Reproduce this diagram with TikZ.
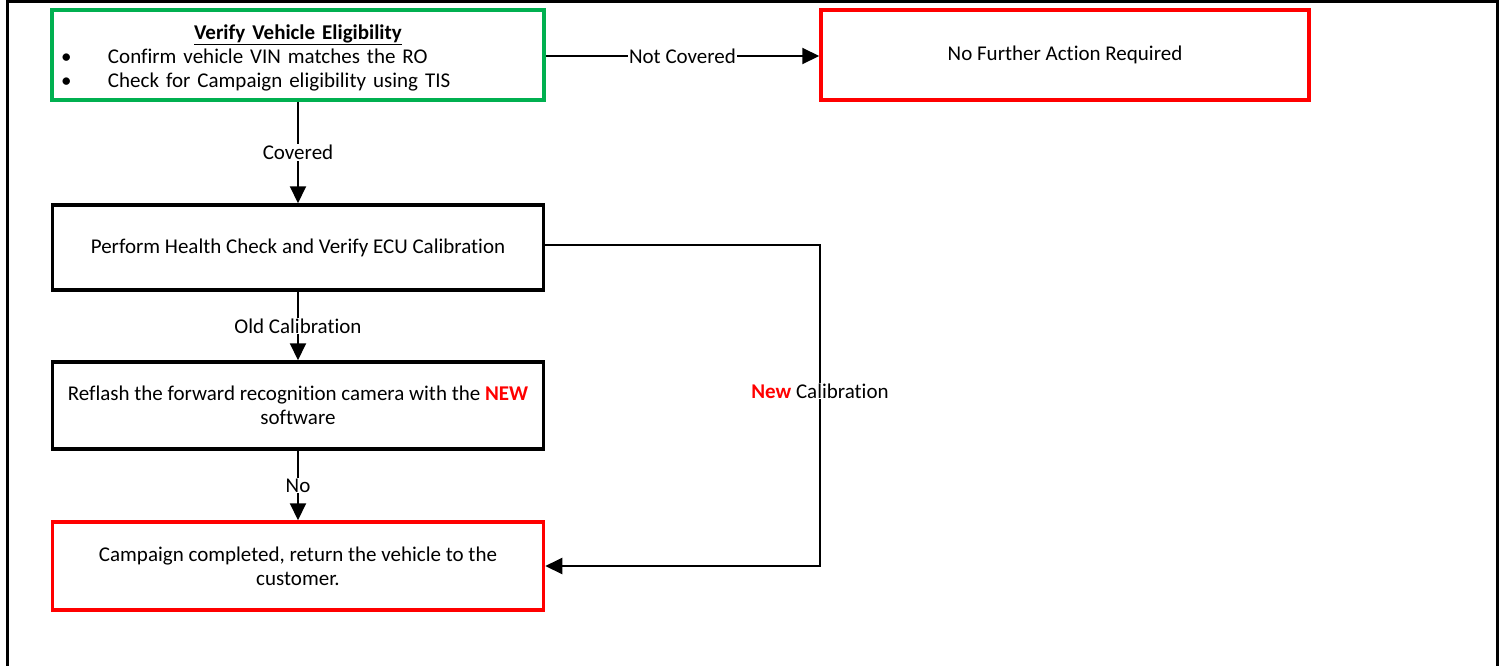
\documentclass[tikz,border=0pt]{standalone}
\usepackage{fontspec}
\setmainfont{Carlito}[Ligatures=NoCommon]
\usetikzlibrary{arrows.meta}
\definecolor{gbox}{RGB}{0,176,80}
\definecolor{rbox}{RGB}{255,0,0}
\begin{document}
\begin{tikzpicture}[x=1pt,y=-1pt,
  every node/.style={font=\fontsize{21}{24}\selectfont},
  box/.style={draw, line width=3.5pt, inner sep=0pt, align=center},
  arr/.style={line width=2pt, -{Triangle[length=17pt,width=16pt]}},
  lbl/.style={fill=white, inner sep=1pt}]
\useasboundingbox (0,0) rectangle (1501,665);
\draw[line width=3pt] (7,700) -- (7,1.5) -- (1497,1.5) -- (1497,700);
% boxes
\node[box, draw=gbox, minimum width=492pt, minimum height=90pt] (b1) at (298,55) {};
\node[text width=480pt, align=left, inner sep=0pt] (t1) at (298,58) {\centering\underline{\textbf{Verify Vehicle Eligibility}}\par\raggedright
\makebox[50pt][l]{\hspace*{3pt}\textbullet}Confirm vehicle VIN matches the RO\par
\makebox[50pt][l]{\hspace*{3pt}\textbullet}Check for Campaign eligibility using TIS\par};
\node[box, draw=rbox, minimum width=488pt, minimum height=90pt] (r1) at (1065,55) {No Further Action Required};
\node[box, minimum width=491pt, minimum height=85pt] (b2) at (298,247.5) {Perform Health Check and Verify ECU Calibration};
\node[box, minimum width=491pt, minimum height=87pt] (b3) at (298,405.5) {Reflash the forward recognition camera with the \textbf{\textcolor{rbox}{NEW}}\\software};
\node[box, draw=rbox, minimum width=491pt, minimum height=88pt] (b4) at (298,566) {Campaign completed, return the vehicle to the\\customer.};
\coordinate (nc) at (820,0);
% connectors
\draw[arr] (b1.east |- 0,56) -- node[lbl] {Not Covered} (r1.west |- 0,56);
\draw[arr] (b1.south) -- node[lbl] {Covered} (b2.north);
\draw[arr] (b2.south) -- node[lbl] {Old Calibration} (b3.north);
\draw[arr] (b3.south) -- node[lbl] {No} (b4.north);
\draw[arr] (b2.east |- 0,245) -- (nc |- 0,245) -- node[lbl, pos=0.455] {\textbf{\textcolor{rbox}{New}} Calibration} (nc |- b4.east) -- (b4.east);
\end{tikzpicture}
\end{document}
